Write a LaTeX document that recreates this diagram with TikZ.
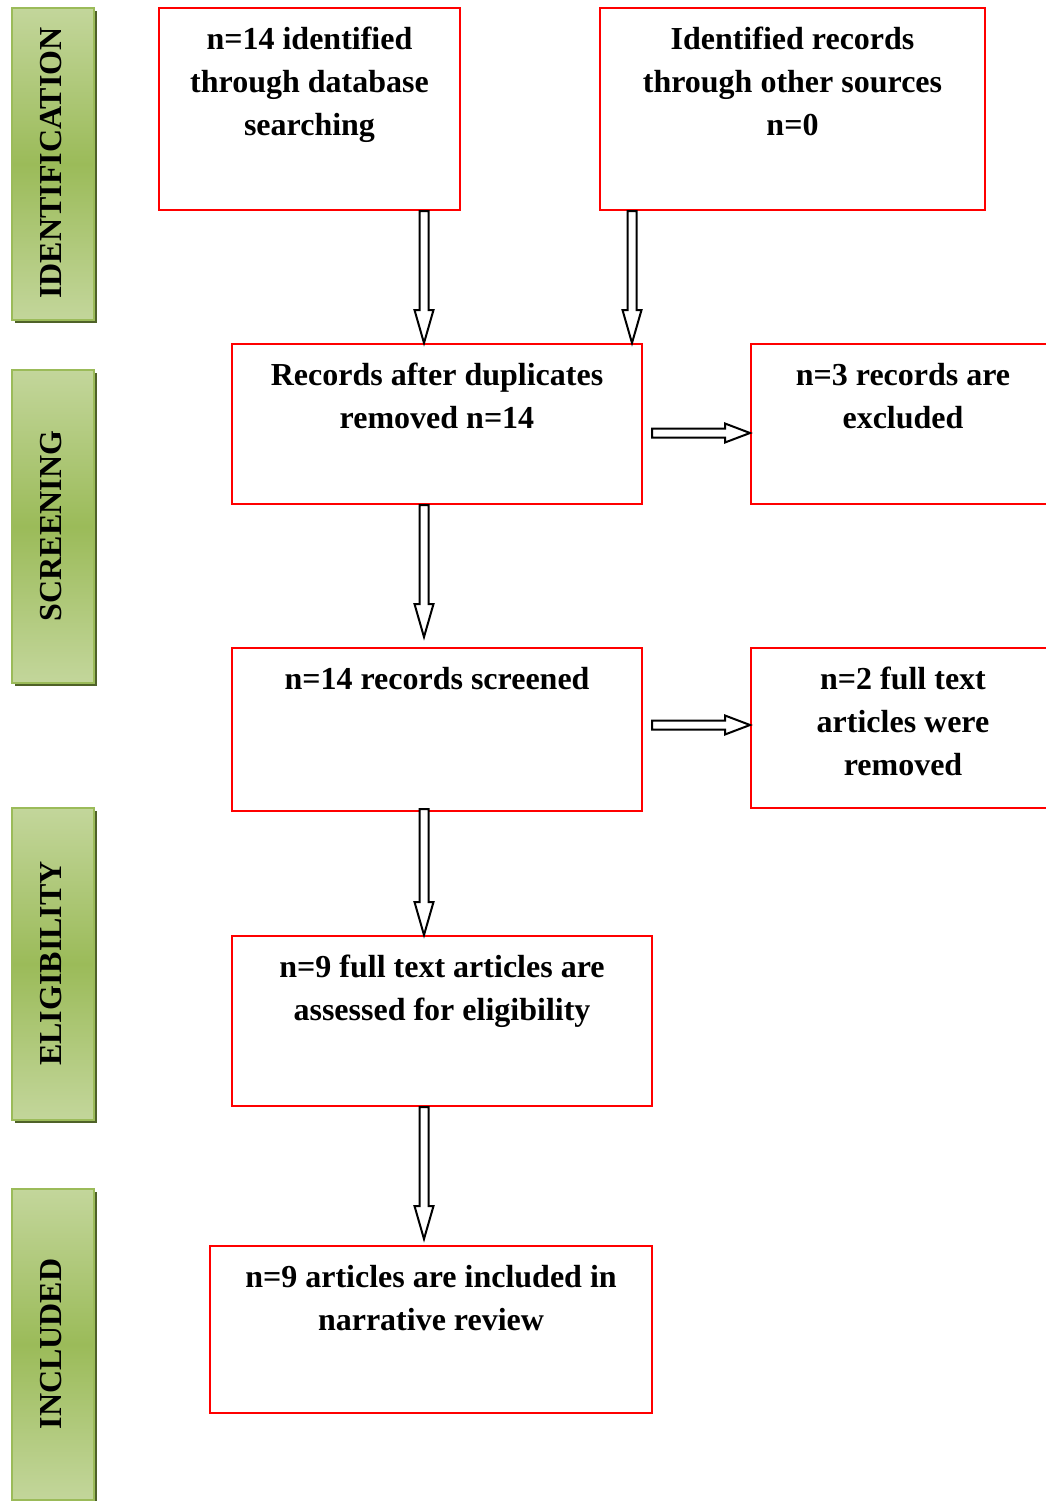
\documentclass[tikz,border=0pt]{standalone}
\usepackage{fontspec}
\setmainfont{Liberation Serif}
\usetikzlibrary{calc,shadows}
\definecolor{barlight}{HTML}{C3D69B}
\definecolor{bardark}{HTML}{9BBB59}
\definecolor{barborder}{HTML}{9BBB59}
\definecolor{barshadow}{HTML}{4F6228}
\newcommand\blockarrow[3]{%
  \coordinate (ba-s) at (#1);
  \coordinate (ba-e) at (#2);
  \coordinate (ba-h) at ($(ba-e)!#3!(ba-s)$);
  \draw[blockarr] ($(ba-s)!4.5pt!90:(ba-e)$) -- ($(ba-h)!4.5pt!-90:(ba-s)$)
    -- ($(ba-h)!9.5pt!-90:(ba-s)$) -- (ba-e) -- ($(ba-h)!9.5pt!90:(ba-s)$)
    -- ($(ba-h)!4.5pt!90:(ba-s)$) -- ($(ba-s)!4.5pt!-90:(ba-e)$) -- cycle;
}
\begin{document}
\begin{tikzpicture}[x=1pt,y=-1pt,
  box/.style={draw=red, line width=2pt, inner sep=0pt},
  lbl/.style={font=\fontsize{32}{43}\selectfont\bfseries, align=center, anchor=north, inner sep=0pt},
  bar/.style={draw=barborder, line width=1.5pt, top color=barlight, bottom color=barlight,
    middle color=bardark, minimum width=82pt, inner sep=0pt,
    general shadow={fill=barshadow, shadow xshift=3pt, shadow yshift=-3pt}},
  bartxt/.style={font=\fontsize{32}{43}\selectfont\bfseries, rotate=90, inner sep=0pt},
  blockarr/.style={draw=black, fill=white, line width=2pt, line join=miter}]
\useasboundingbox (0,0) rectangle (1046,1501);
\clip (0,0) rectangle (1046,1501);

% side bars
\node[bar, minimum height=312pt] (b1) at (53,164) {};
\node[bartxt] (t1) at (51,163) {IDENTIFICATION};
\node[bar, minimum height=313pt] (b2) at (53,526.5) {};
\node[bartxt] (t2) at (51,526) {SCREENING};
\node[bar, minimum height=312pt] (b3) at (53,964) {};
\node[bartxt] (t3) at (51,963.5) {ELIGIBILITY};
\node[bar, minimum height=311pt] (b4) at (53,1344.5) {};
\node[bartxt] (t4) at (51,1344) {INCLUDED};

% boxes
\node[box, minimum width=301pt, minimum height=202pt] (a) at (309.5,109) {};
\node[lbl] (at) at ([yshift=-12.5pt]a.north) {\strut n=14 identified\\through database\\searching};
\node[box, minimum width=385pt, minimum height=202pt] (b) at (792.5,109) {};
\node[lbl] (bt) at ([yshift=-12.5pt]b.north) {\strut Identified records\\through other sources\\n=0};
\node[box, minimum width=410pt, minimum height=160pt] (c) at (437,424) {};
\node[lbl] (ct) at ([yshift=-12.5pt]c.north) {\strut Records after duplicates\\removed n=14};
\node[box, minimum width=304pt, minimum height=160pt] (d) at (903,424) {};
\node[lbl] (dt) at ([yshift=-12.5pt]d.north) {\strut n=3 records are\\excluded};
\node[box, minimum width=410pt, minimum height=163pt] (e) at (437,729.5) {};
\node[lbl] (et) at ([yshift=-12.5pt]e.north) {\strut n=14 records screened};
\node[box, minimum width=304pt, minimum height=160pt] (f) at (903,728) {};
\node[lbl] (ft) at ([yshift=-12.5pt]f.north) {\strut n=2 full text\\articles were\\removed};
\node[box, minimum width=420pt, minimum height=170pt] (g) at (442,1021) {};
\node[lbl] (gt) at ([yshift=-12.5pt]g.north) {\strut n=9 full text articles are\\assessed for eligibility};
\node[box, minimum width=442pt, minimum height=167pt] (h) at (431,1329.5) {};
\node[lbl] (ht) at ([yshift=-12.5pt]h.north) {\strut n=9 articles are included in\\narrative review};

% arrows
\coordinate (xl) at (424,0);
\coordinate (xr) at (632,0);
\coordinate (y1) at (0,433);
\coordinate (y2) at (0,725);
\blockarrow{a.south -| xl}{c.north -| xl}{33pt}
\blockarrow{b.south -| xr}{c.north -| xr}{33pt}
\blockarrow{c.south -| xl}{$(e.north -| xl)+(0,-10)$}{33pt}
\blockarrow{$(e.south -| xl)+(0,-3)$}{g.north -| xl}{33pt}
\blockarrow{g.south -| xl}{$(h.north -| xl)+(0,-6)$}{33pt}
\blockarrow{$(c.east |- y1)+(9,0)$}{d.west |- y1}{25pt}
\blockarrow{$(e.east |- y2)+(9,0)$}{f.west |- y2}{25pt}
\end{tikzpicture}
\end{document}
